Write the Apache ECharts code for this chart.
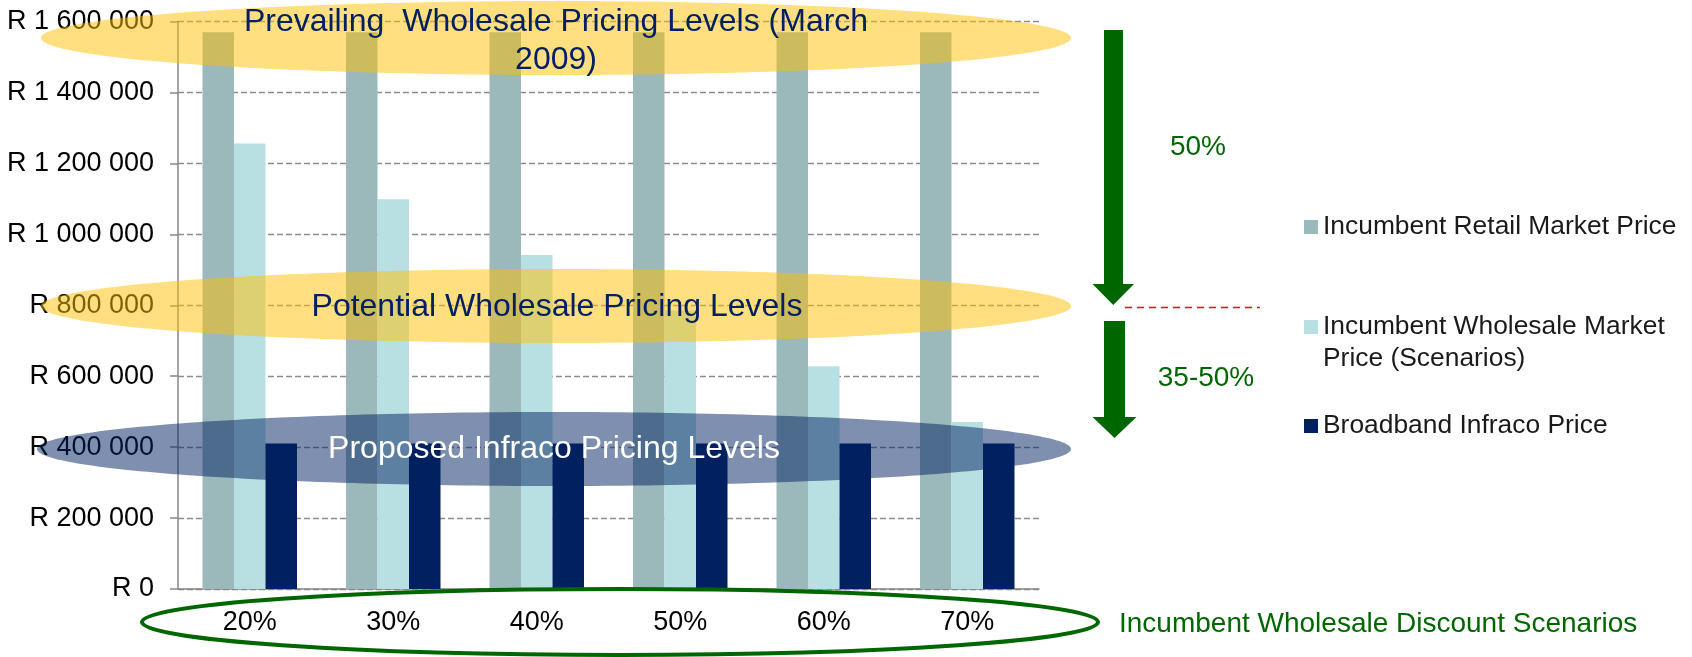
<!DOCTYPE html>
<html>
<head>
<meta charset="utf-8">
<script src="https://cdn.jsdelivr.net/npm/echarts@6/dist/echarts.min.js"></script>
<style>
  html, body { margin: 0; padding: 0; background: #fff; }
  #chart { width: 1692px; height: 657px; }
</style>
</head>
<body>
<div id="chart"></div>
<script>
// data
var categories = ['20%', '30%', '40%', '50%', '60%', '70%'];
var retailPrice = [1570000, 1570000, 1570000, 1570000, 1570000, 1570000];
var wholesalePrice = [1256000, 1099000, 942000, 785000, 628000, 471000];
var infracoPrice = [410000, 410000, 410000, 410000, 410000, 410000];
var seriesNames = [
  'Incumbent Retail Market Price',
  'Incumbent Wholesale Market Price (Scenarios)',
  'Broadband Infraco Price'
];

var FONT = '"Liberation Sans", Arial, sans-serif';
var GREEN = '#006600';
var NAVY = '#002060';

var myChart = echarts.init(document.getElementById('chart'), null, { renderer: 'canvas' });

// legend: one block per item, so the two-line item can sit where it does in the slide
function legendItem(name, top, fmt) {
  return {
    data: [name],
    orient: 'vertical',
    left: 1304,
    top: top,
    padding: 0,
    itemWidth: 14,
    itemHeight: 14,
    itemGap: 0,
    icon: 'rect',
    selectedMode: false,
    formatter: fmt || '{name}',
    textStyle: { fontFamily: FONT, fontSize: 26.4, color: '#1a1a1a', lineHeight: 32 }
  };
}

// arrows drawn as polygons
function arrow(x1, x2, top, headBase, hx1, hx2, tip) {
  var cx = (hx1 + hx2) / 2;
  return {
    type: 'polygon',
    z: 100,
    shape: { points: [[x1, top], [x2, top], [x2, headBase], [hx2, headBase], [cx, tip], [hx1, headBase], [x1, headBase]] },
    style: { fill: GREEN }
  };
}

function label(text, x, y, size, color) {
  return {
    type: 'text', z: 101,
    style: { text: text, x: x, y: y, align: 'center', verticalAlign: 'middle', fontSize: size, fontFamily: FONT, fill: color }
  };
}

var option = {
  backgroundColor: '#ffffff',
  animation: false,
  grid: { left: 178, right: 653, top: 21.6, bottom: 68 },
  legend: [
    legendItem(seriesNames[0], 211),
    legendItem(seriesNames[1], 279, function () {
      return ' \nIncumbent Wholesale Market\nPrice (Scenarios)';
    }),
    legendItem(seriesNames[2], 410)
  ],
  xAxis: {
    type: 'category',
    data: categories,
    axisLine: { lineStyle: { color: '#868686', width: 1.5 } },
    axisTick: { length: 8, lineStyle: { color: '#868686', width: 1.5 } },
    axisLabel: { margin: 20, fontFamily: FONT, fontSize: 27, color: '#000' }
  },
  yAxis: {
    type: 'value',
    min: 0,
    max: 1600000,
    interval: 200000,
    axisLine: { show: true, lineStyle: { color: '#868686', width: 1.5 } },
    axisTick: { show: true, length: 8, lineStyle: { color: '#868686', width: 1.5 } },
    axisLabel: {
      margin: 24,
      fontFamily: FONT,
      fontSize: 27,
      color: '#000',
      formatter: function (v) {
        return 'R ' + String(v).replace(/\B(?=(\d{3})+(?!\d))/g, ' ');
      }
    },
    splitLine: { lineStyle: { color: '#8c8c8c', width: 1.3, type: [6, 3] } }
  },
  series: [
    {
      name: seriesNames[0], type: 'bar', data: retailPrice,
      barWidth: 31.5, barGap: '0%',
      itemStyle: { color: '#9bb9bb' }
    },
    {
      name: seriesNames[1], type: 'bar', data: wholesalePrice,
      barWidth: 31.5, barGap: '0%',
      itemStyle: { color: '#b8e0e3' }
    },
    {
      name: seriesNames[2], type: 'bar', data: infracoPrice,
      barWidth: 31.5, barGap: '0%',
      itemStyle: { color: NAVY }
    }
  ],
  graphic: [
    // highlight ellipses over the chart
    { type: 'ellipse', z: 100, shape: { cx: 556, cy: 38, rx: 515, ry: 37 }, style: { fill: 'rgba(255,192,0,0.5)' } },
    { type: 'ellipse', z: 100, shape: { cx: 556, cy: 306, rx: 515, ry: 37 }, style: { fill: 'rgba(255,192,0,0.5)' } },
    { type: 'ellipse', z: 100, shape: { cx: 554, cy: 449, rx: 517, ry: 37 }, style: { fill: 'rgba(0,32,96,0.5)' } },
    label('Prevailing  Wholesale Pricing Levels (March', 556, 22, 32, NAVY),
    label('2009)', 556, 60, 32, NAVY),
    label('Potential Wholesale Pricing Levels', 557, 307, 32, NAVY),
    label('Proposed Infraco Pricing Levels', 554, 449, 32, '#ffffff'),
    // green outline round the x labels
    { type: 'ellipse', z: 100, shape: { cx: 620, cy: 622, rx: 478, ry: 33 }, style: { fill: 'none', stroke: GREEN, lineWidth: 4 } },
    {
      type: 'text', z: 101,
      style: {
        text: 'Incumbent Wholesale Discount Scenarios', x: 1119, y: 624,
        verticalAlign: 'middle', fontSize: 28, fontFamily: FONT, fill: GREEN
      }
    },
    // arrows and percentages
    arrow(1104, 1123, 30, 284, 1092.5, 1134, 305),
    arrow(1104, 1125, 321, 417, 1092.5, 1136.5, 438),
    {
      type: 'line', z: 100,
      shape: { x1: 1125, y1: 307.5, x2: 1260, y2: 307.5 },
      style: { stroke: '#ff0000', lineWidth: 1.5, lineDash: [7, 5] }
    },
    label('50%', 1198, 147, 28, GREEN),
    label('35-50%', 1206, 378, 28, GREEN)
  ]
};

myChart.setOption(option);
</script>
</body>
</html>
